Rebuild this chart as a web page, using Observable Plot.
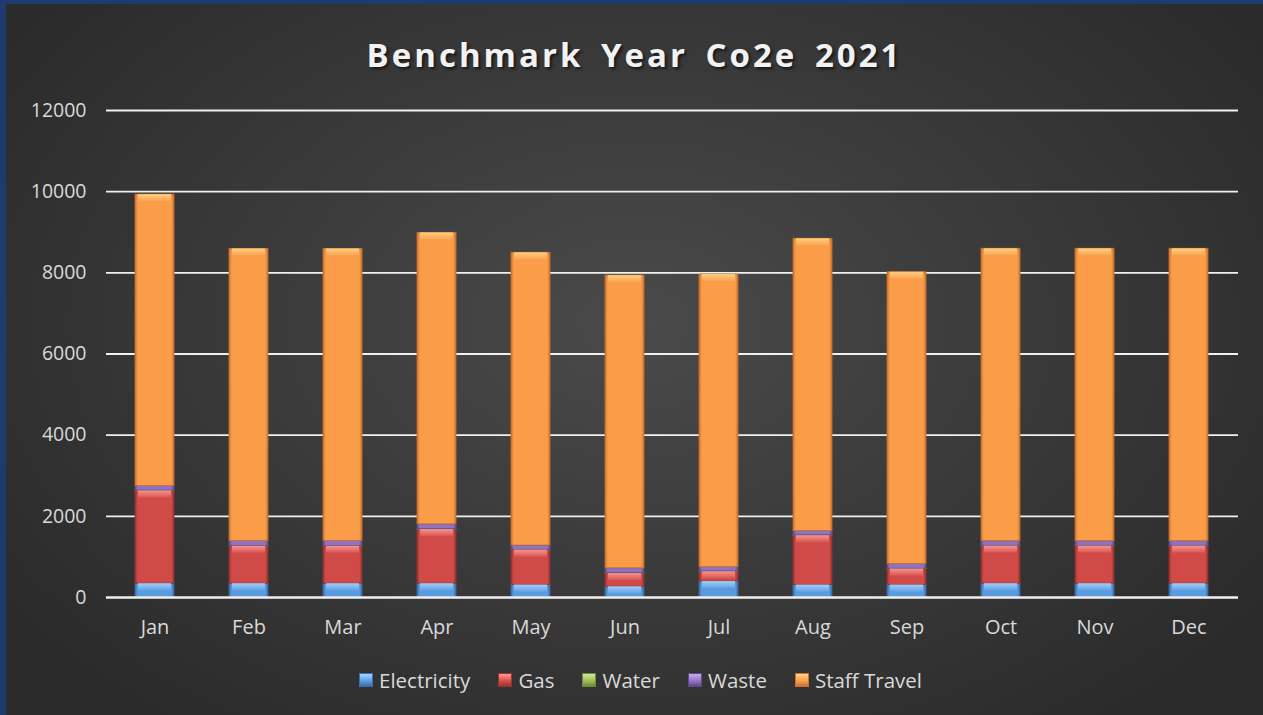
<!DOCTYPE html>
<html>
<head>
<meta charset="utf-8">
<script src="https://cdn.jsdelivr.net/npm/d3@7"></script>
<script src="https://cdn.jsdelivr.net/npm/@observablehq/plot@0.6"></script>
<style>
  html, body { margin: 0; padding: 0; }
  body { width: 1263px; height: 715px; background: #1f3a6e; position: relative; overflow: hidden; font-family: "Open Sans", sans-serif; }
  #panel { position: absolute; left: 6px; top: 4px; width: 1257px; height: 711px;
    background: radial-gradient(ellipse 60% 70% at 50% 45%, #4a4a4a 0%, #3c3c3c 45%, #2b2b2b 100%); }
  #title { position: absolute; left: 6px; top: 32px; width: 1257px; text-align: center; color: #f2f2f2;
    font-family: "Open Sans", sans-serif; font-weight: 700; font-size: 33px; letter-spacing: 3px; word-spacing: 6px;
    text-shadow: 2px 2px 3px rgba(0,0,0,0.6); }
  #chart { position: absolute; left: 0; top: 0; }
  #legend { position: absolute; left: 9px; top: 666px; width: 1263px; display: flex; justify-content: center; gap: 0; color: #d9d9d9; font-size: 20.5px; }
  .item { display: flex; align-items: center; margin: 0 14px; }
  .sw { width: 12px; height: 12px; margin-right: 6px; }
</style>
</head>
<body>
<svg width="0" height="0" style="position:absolute">
  <defs id="defs"></defs>
</svg>
<div id="panel"></div>
<div id="title">Benchmark Year Co2e 2021</div>
<div id="chart"></div>
<div id="legend"></div>
<script>
const months = ["Jan","Feb","Mar","Apr","May","Jun","Jul","Aug","Sep","Oct","Nov","Dec"];
const seriesNames = ["Electricity","Gas","Water","Waste","Staff Travel"];
const electricity = [340, 340, 340, 340, 306, 264, 395, 306, 306, 340, 340, 340];
const gas         = [2285, 922, 922, 1333, 861, 328, 239, 1216, 394, 925, 925, 925];
const water       = [8, 8, 8, 8, 8, 8, 8, 8, 8, 8, 8, 8];
const waste       = [115, 120, 120, 120, 106, 120, 106, 106, 120, 115, 115, 115];
const staffTravel = [7180, 7200, 7200, 7184, 7213, 7212, 7210, 7204, 7186, 7205, 7205, 7205];
const yTicks = [0, 2000, 4000, 6000, 8000, 10000, 12000];

const baseColors = ["#5a9be0", "#d04b48", "#9bbb59", "#8f72c2", "#fb9c48"];
const lightColors = ["#a8d4ff", "#ff9a96", "#cfe89a", "#c4aef0", "#ffd488"];
const darkColors = ["#3b6fa8", "#9a3331", "#6f8a3c", "#5f4a88", "#c8732e"];

// gradients
const defs = document.getElementById("defs");
seriesNames.forEach((s, i) => {
  defs.innerHTML += `<linearGradient id="g${i}" x1="0" x2="1" y1="0" y2="0">
    <stop offset="0" stop-color="${darkColors[i]}"/>
    <stop offset="0.07" stop-color="${baseColors[i]}"/>
    <stop offset="0.93" stop-color="${baseColors[i]}"/>
    <stop offset="1" stop-color="${darkColors[i]}"/>
  </linearGradient>
  <linearGradient id="h${i}" x1="0" x2="0" y1="0" y2="1">
    <stop offset="0" stop-color="${lightColors[i]}" stop-opacity="0.9"/>
    <stop offset="1" stop-color="${lightColors[i]}" stop-opacity="0.15"/>
  </linearGradient>`;
});

const values = [electricity, gas, water, waste, staffTravel];
const records = [];
months.forEach((m, j) => {
  let acc = 0;
  values.forEach((arr, i) => {
    records.push({month: m, series: seriesNames[i], idx: i, y1: acc, y2: acc + arr[j]});
    acc += arr[j];
  });
});

const plot = Plot.plot({
  width: 1263,
  height: 650,
  marginTop: 110,
  marginBottom: 53,
  marginLeft: 106,
  marginRight: 25,
  style: { background: "transparent", fontFamily: "'Open Sans', sans-serif", color: "#d9d9d9" },
  x: { domain: months, paddingInner: 0.58, paddingOuter: 0.29, label: null, tickSize: 0, tickPadding: 22 },
  y: { domain: [0, 12000], ticks: yTicks, label: null, tickSize: 0, tickPadding: 20, tickFormat: d => String(d) },
  marks: [
    Plot.ruleY(yTicks.filter(d => d > 0), { stroke: "#f0f0f0", strokeWidth: 1.8 }),
    Plot.barY(records, { x: "month", y1: "y1", y2: "y2", fill: d => `url(#g${d.idx})`, stroke: d => darkColors[d.idx], strokeWidth: 0.8 }),
    Plot.barY(records.filter(d => d.y2 - d.y1 > 150), { x: "month", y1: "y2", y2: "y2", insetBottom: -7, insetLeft: 3, insetRight: 3, fill: d => `url(#h${d.idx})` }),
    Plot.ruleY([0], { stroke: "#f0f0f0", strokeWidth: 2.6 }),
    Plot.axisX({ tickSize: 0, tickPadding: 22, fontSize: 20, fill: "#d9d9d9", label: null }),
    Plot.axisY({ ticks: yTicks, tickSize: 0, tickPadding: 20, fontSize: 19.5, fill: "#d9d9d9", label: null, tickFormat: d => String(d) })
  ]
});
document.getElementById("chart").appendChild(plot);

const legend = document.getElementById("legend");
seriesNames.forEach((s, i) => {
  const it = document.createElement("div");
  it.className = "item";
  it.innerHTML = `<div class="sw" style="background: linear-gradient(${lightColors[i]}, ${baseColors[i]} 60%, ${darkColors[i]}); border: 1px solid ${darkColors[i]}"></div><span>${s}</span>`;
  legend.appendChild(it);
});
</script>
</body>
</html>
